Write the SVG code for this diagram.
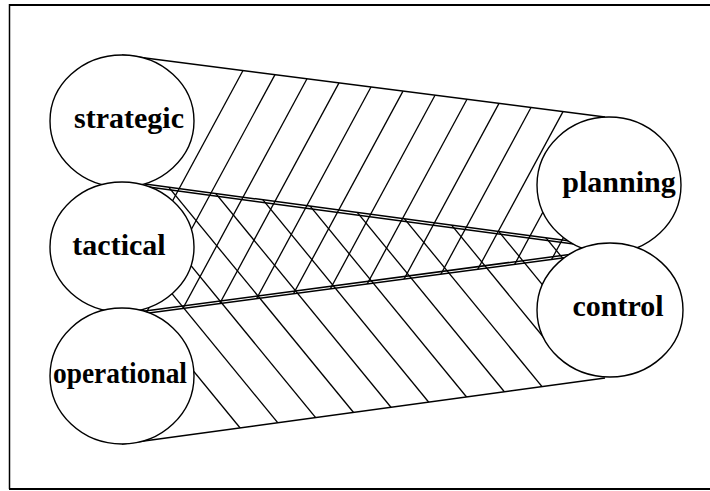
<svg xmlns="http://www.w3.org/2000/svg" width="710" height="491" viewBox="0 0 710 491">
<style>
.frame{stroke:#000;fill:none}
.bnd{stroke:#000;stroke-width:1.5;fill:none}
.hatch line{stroke:#000;stroke-width:1.3}
.node ellipse{fill:#fff;stroke:#000;stroke-width:1.4}
.node text{font-family:"Liberation Serif","Times New Roman",serif;font-weight:bold;font-size:30px;text-anchor:middle;fill:#000}
</style>
<defs>
<clipPath id="upper"><polygon points="122,55 605,117 650,117 650,255 585,255 145,313.5 100,313.5 100,55"/></clipPath>
<clipPath id="lower"><polygon points="145,184 585,243 650,243 650,378 605,378 122,444 100,444 100,184"/></clipPath>
</defs>
<rect width="710" height="491" fill="#fff"/>
<g id="frame">
<line class="frame" x1="9.5" y1="4" x2="9.5" y2="489" stroke-width="1.5"/>
<line class="frame" x1="9" y1="5" x2="710" y2="5" stroke-width="2"/>
<line class="frame" x1="9" y1="489" x2="710" y2="489" stroke-width="2"/>
</g>
<g id="connectors">
<g class="hatch" clip-path="url(#upper)">
<line x1="243" y1="70.5" x2="43" y2="440.5"/>
<line x1="275" y1="74.6" x2="75" y2="444.6"/>
<line x1="307" y1="78.8" x2="107" y2="448.8"/>
<line x1="339" y1="82.9" x2="139" y2="452.9"/>
<line x1="371" y1="87" x2="171" y2="457"/>
<line x1="403" y1="91.1" x2="203" y2="461.1"/>
<line x1="435" y1="95.2" x2="235" y2="465.2"/>
<line x1="467" y1="99.3" x2="267" y2="469.3"/>
<line x1="499" y1="103.4" x2="299" y2="473.4"/>
<line x1="531" y1="107.5" x2="331" y2="477.5"/>
<line x1="563" y1="111.6" x2="363" y2="481.6"/>
<line x1="584.6" y1="135" x2="395" y2="485.7"/>
<line x1="620" y1="133" x2="427" y2="489.8"/>
</g>
<g class="hatch" clip-path="url(#lower)">
<line x1="250" y1="440" x2="-10" y2="122.9"/>
<line x1="287" y1="434" x2="27.75" y2="117.7"/>
<line x1="325" y1="429" x2="65.5" y2="112.6"/>
<line x1="363" y1="424" x2="103.25" y2="107.4"/>
<line x1="401" y1="419.5" x2="141" y2="102.3"/>
<line x1="438" y1="413.5" x2="178.75" y2="97.1"/>
<line x1="476" y1="408.5" x2="216.5" y2="91.9"/>
<line x1="514" y1="403.5" x2="254.25" y2="86.8"/>
<line x1="552" y1="398.8" x2="292" y2="81.6"/>
<line x1="547" y1="341.5" x2="329.75" y2="76.5"/>
<line x1="572" y1="320.8" x2="367.5" y2="71.3"/>
<line x1="598" y1="301.3" x2="405.25" y2="66.1"/>
</g>
<line class="bnd" x1="122" y1="55" x2="605" y2="117"/>
<line class="bnd" x1="122" y1="444" x2="605" y2="378"/>
<g id="double-upper">
<line class="bnd" stroke-width="1.2" x1="145" y1="184" x2="585" y2="243"/>
<line class="bnd" stroke-width="1.2" x1="145" y1="186.6" x2="585" y2="245.6"/>
</g>
<g id="double-lower">
<line class="bnd" stroke-width="1.2" x1="145" y1="313.5" x2="585" y2="255"/>
<line class="bnd" stroke-width="1.2" x1="145" y1="310.9" x2="585" y2="252.4"/>
</g>
</g>
<g id="strategic" class="node"><ellipse cx="122" cy="121" rx="72" ry="66"/><text x="129" y="128">strategic</text></g>
<g id="tactical" class="node"><ellipse cx="122" cy="247" rx="72" ry="65"/><text x="119" y="255">tactical</text></g>
<g id="operational" class="node"><ellipse cx="122" cy="376" rx="72" ry="68"/><text x="120" y="383" textLength="134" lengthAdjust="spacingAndGlyphs">operational</text></g>
<g id="planning" class="node"><ellipse cx="609" cy="185" rx="72" ry="68"/><text x="619" y="192">planning</text></g>
<g id="control" class="node"><ellipse cx="610" cy="310" rx="73" ry="67"/><text x="618" y="316">control</text></g>
</svg>
